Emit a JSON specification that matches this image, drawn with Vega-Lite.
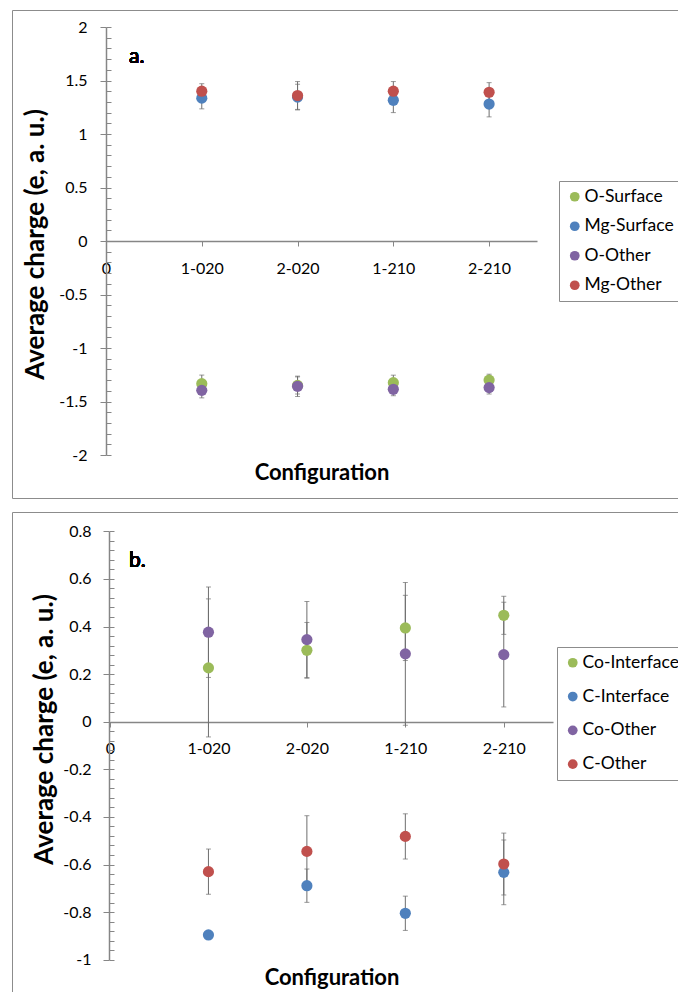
{
  "$schema": "https://vega.github.io/schema/vega-lite/v6.json",
  "padding": {"left": 11, "top": 9, "right": 0, "bottom": 0},
  "background": "white",
  "spacing": 12,
  "resolve": {"scale": {"color": "independent"}, "legend": {"color": "independent"}},
  "config": {
    "view": {"stroke": "#8c8c8c", "strokeWidth": 1},
    "font": "Lato",
    "axis": {"grid": false, "domainColor": "#868686", "tickColor": "#868686", "labelColor": "#000", "titleColor": "#000", "labelFont": "Lato", "titleFont": "Lato", "labelFlush": false},
    "legend": {"labelFont": "Lato"}
  },
  "datasets": {
    "a": [
      {"pos": 1, "config": "1-020", "series": "O-Surface", "v": -1.333, "err": 0.08},
      {"pos": 2, "config": "2-020", "series": "O-Surface", "v": -1.35, "err": 0.08},
      {"pos": 3, "config": "1-210", "series": "O-Surface", "v": -1.324, "err": 0.07},
      {"pos": 4, "config": "2-210", "series": "O-Surface", "v": -1.30, "err": 0.055},
      {"pos": 1, "config": "1-020", "series": "Mg-Surface", "v": 1.335, "err": 0.10},
      {"pos": 2, "config": "2-020", "series": "Mg-Surface", "v": 1.345, "err": 0.12},
      {"pos": 3, "config": "1-210", "series": "Mg-Surface", "v": 1.315, "err": 0.115},
      {"pos": 4, "config": "2-210", "series": "Mg-Surface", "v": 1.28, "err": 0.12},
      {"pos": 1, "config": "1-020", "series": "O-Other", "v": -1.396, "err": 0.07},
      {"pos": 2, "config": "2-020", "series": "O-Other", "v": -1.358, "err": 0.095},
      {"pos": 3, "config": "1-210", "series": "O-Other", "v": -1.386, "err": 0.06},
      {"pos": 4, "config": "2-210", "series": "O-Other", "v": -1.37, "err": 0.06},
      {"pos": 1, "config": "1-020", "series": "Mg-Other", "v": 1.40, "err": 0.07},
      {"pos": 2, "config": "2-020", "series": "Mg-Other", "v": 1.36, "err": 0.13},
      {"pos": 3, "config": "1-210", "series": "Mg-Other", "v": 1.40, "err": 0.09},
      {"pos": 4, "config": "2-210", "series": "Mg-Other", "v": 1.39, "err": 0.09}
    ],
    "b": [
      {"pos": 1, "config": "1-020", "series": "Co-Interface", "v": 0.226, "err": 0.29},
      {"pos": 2, "config": "2-020", "series": "Co-Interface", "v": 0.30, "err": 0.117},
      {"pos": 3, "config": "1-210", "series": "Co-Interface", "v": 0.394, "err": 0.137},
      {"pos": 4, "config": "2-210", "series": "Co-Interface", "v": 0.447, "err": 0.08},
      {"pos": 1, "config": "1-020", "series": "C-Interface", "v": -0.896, "err": 0.0},
      {"pos": 2, "config": "2-020", "series": "C-Interface", "v": -0.689, "err": 0.07},
      {"pos": 3, "config": "1-210", "series": "C-Interface", "v": -0.805, "err": 0.072},
      {"pos": 4, "config": "2-210", "series": "C-Interface", "v": -0.633, "err": 0.136},
      {"pos": 1, "config": "1-020", "series": "Co-Other", "v": 0.376, "err": 0.19},
      {"pos": 2, "config": "2-020", "series": "Co-Other", "v": 0.345, "err": 0.16},
      {"pos": 3, "config": "1-210", "series": "Co-Other", "v": 0.285, "err": 0.30},
      {"pos": 4, "config": "2-210", "series": "Co-Other", "v": 0.282, "err": 0.22},
      {"pos": 1, "config": "1-020", "series": "C-Other", "v": -0.63, "err": 0.095},
      {"pos": 2, "config": "2-020", "series": "C-Other", "v": -0.545, "err": 0.15},
      {"pos": 3, "config": "1-210", "series": "C-Other", "v": -0.482, "err": 0.095},
      {"pos": 4, "config": "2-210", "series": "C-Other", "v": -0.598, "err": 0.13}
    ]
  },
  "vconcat": [
    {
      "width": 672,
      "height": 488,
      "data": {"name": "a"},
      "resolve": {"axis": {"x": "independent", "y": "independent"}},
      "layer": [
        {
          "mark": {"type": "errorbar", "ticks": {"size": 5, "thickness": 1, "color": "#6e6e6e"}, "rule": {"strokeWidth": 1, "color": "#6e6e6e"}},
          "encoding": {
            "x": {"field": "pos", "type": "quantitative", "scale": {"domain": [0, 4.5], "range": [94, 525], "nice": false, "zero": false}, "axis": null},
            "y": {"field": "v", "type": "quantitative", "scale": {"domain": [-2, 2], "range": [445, 17], "nice": false, "zero": false}, "axis": null},
            "yError": {"field": "err"}
          }
        },
        {
          "mark": {"type": "point", "filled": true, "opacity": 1, "size": 125, "shape": "circle"},
          "encoding": {
            "x": {"field": "pos", "type": "quantitative", "scale": {"domain": [0, 4.5], "range": [94, 525], "nice": false, "zero": false},
              "axis": {"orient": "bottom", "offset": -257, "values": [0, 1, 2, 3, 4], "labelExpr": "datum.value == 0 ? '0' : datum.value == 1 ? '1-020' : datum.value == 2 ? '2-020' : datum.value == 3 ? '1-210' : '2-210'",
                "tickSize": 5, "domainWidth": 1.5, "labelFontSize": 16, "labelPadding": 14, "title": "Configuration", "titleFontSize": 22, "titleFontWeight": "bold", "titleBaseline": "alphabetic", "titleY": 238}},
            "y": {"field": "v", "type": "quantitative", "scale": {"domain": [-2, 2], "range": [445, 17], "nice": false, "zero": false},
              "axis": {"orient": "left", "offset": -94, "values": [-2, -1.5, -1, -0.5, 0, 0.5, 1, 1.5, 2], "labelExpr": "replace(format(datum.value, '~g'), '\u2212', '-')", "tickSize": 6, "domainWidth": 1.5, "labelFontSize": 16, "labelPadding": 13,
                "title": "Average charge (e, a. u.)", "titleFontSize": 26, "titleFontWeight": "bold", "titleBaseline": "alphabetic", "titleX": -63, "titleY": 234, "titleAngle": -90}},
            "color": {"field": "series", "type": "nominal", "scale": {"domain": ["O-Surface", "Mg-Surface", "O-Other", "Mg-Other"], "range": ["#9BBB59", "#4F81BD", "#8064A2", "#C0504D"]},
              "legend": {"title": null, "orient": "none", "legendX": 547, "legendY": 171, "strokeColor": "#8c8c8c", "padding": 7, "labelFontSize": 17.5, "labelColor": "#000", "symbolSize": 95, "symbolType": "circle", "rowPadding": 10.5, "labelOffset": 1, "symbolStrokeWidth": 0}}
          }
        },
        {
          "mark": {"type": "text", "text": "a.", "fontSize": 21, "fontWeight": "normal", "align": "left", "baseline": "alphabetic", "color": "#000"},
          "encoding": {
            "x": {"datum": 0.24, "type": "quantitative", "scale": {"domain": [0, 4.5], "range": [94, 525], "nice": false, "zero": false}, "axis": null},
            "y": {"datum": 1.664, "type": "quantitative", "scale": {"domain": [-2, 2], "range": [445, 17], "nice": false, "zero": false},
              "axis": {"orient": "left", "offset": -94, "values": [-2, -1.9, -1.8, -1.7, -1.6, -1.5, -1.4, -1.3, -1.2, -1.1, -1, -0.9, -0.8, -0.7, -0.6, -0.5, -0.4, -0.3, -0.2, -0.1, 0, 0.1, 0.2, 0.3, 0.4, 0.5, 0.6, 0.7, 0.8, 0.9, 1, 1.1, 1.2, 1.3, 1.4, 1.5, 1.6, 1.7, 1.8, 1.9, 2], "tickSize": -5, "domain": false, "labels": false, "title": null}}
          }
        }
      ]
    },
    {
      "width": 672,
      "height": 490,
      "data": {"name": "b"},
      "resolve": {"axis": {"x": "independent", "y": "independent"}},
      "layer": [
        {
          "mark": {"type": "errorbar", "ticks": {"size": 5, "thickness": 1, "color": "#6e6e6e"}, "rule": {"strokeWidth": 1, "color": "#6e6e6e"}},
          "encoding": {
            "x": {"field": "pos", "type": "quantitative", "scale": {"domain": [0, 4.5], "range": [98, 541], "nice": false, "zero": false}, "axis": null},
            "y": {"field": "v", "type": "quantitative", "scale": {"domain": [-1, 0.8], "range": [447.7, 19.3], "nice": false, "zero": false}, "axis": null},
            "yError": {"field": "err"}
          }
        },
        {
          "mark": {"type": "point", "filled": true, "opacity": 1, "size": 125, "shape": "circle"},
          "encoding": {
            "x": {"field": "pos", "type": "quantitative", "scale": {"domain": [0, 4.5], "range": [98, 541], "nice": false, "zero": false},
              "axis": {"orient": "bottom", "offset": -280, "values": [0, 1, 2, 3, 4], "labelExpr": "datum.value == 0 ? '0' : datum.value == 1 ? '1-020' : datum.value == 2 ? '2-020' : datum.value == 3 ? '1-210' : '2-210'",
                "tickSize": 5, "domainWidth": 1.5, "labelFontSize": 16, "labelPadding": 13, "title": "Configuration", "titleFontSize": 22, "titleFontWeight": "bold", "titleBaseline": "alphabetic", "titleY": 262}},
            "y": {"field": "v", "type": "quantitative", "scale": {"domain": [-1, 0.8], "range": [447.7, 19.3], "nice": false, "zero": false},
              "axis": {"orient": "left", "offset": -97, "values": [-1, -0.8, -0.6, -0.4, -0.2, 0, 0.2, 0.4, 0.6, 0.8], "labelExpr": "replace(format(datum.value, '~g'), '\u2212', '-')", "tickSize": 6, "domainWidth": 1.5, "labelFontSize": 16, "labelPadding": 12,
                "title": "Average charge (e, a. u.)", "titleFontSize": 26, "titleFontWeight": "bold", "titleBaseline": "alphabetic", "titleX": -57, "titleY": 217, "titleAngle": -90}},
            "color": {"field": "series", "type": "nominal", "scale": {"domain": ["Co-Interface", "C-Interface", "Co-Other", "C-Other"], "range": ["#9BBB59", "#4F81BD", "#8064A2", "#C0504D"]},
              "legend": {"title": null, "orient": "none", "legendX": 545, "legendY": 135, "strokeColor": "#8c8c8c", "padding": 7, "labelFontSize": 17.5, "labelColor": "#000", "symbolSize": 95, "symbolType": "circle", "rowPadding": 14.8, "labelOffset": 1, "symbolStrokeWidth": 0}}
          }
        },
        {
          "mark": {"type": "text", "text": "b.", "fontSize": 21, "fontWeight": "normal", "align": "left", "baseline": "alphabetic", "color": "#000"},
          "encoding": {
            "x": {"datum": 0.193, "type": "quantitative", "scale": {"domain": [0, 4.5], "range": [98, 541], "nice": false, "zero": false}, "axis": null},
            "y": {"datum": 0.65, "type": "quantitative", "scale": {"domain": [-1, 0.8], "range": [447.7, 19.3], "nice": false, "zero": false},
              "axis": {"orient": "left", "offset": -97, "values": [-1, -0.96, -0.92, -0.88, -0.84, -0.8, -0.76, -0.72, -0.68, -0.64, -0.6, -0.56, -0.52, -0.48, -0.44, -0.4, -0.36, -0.32, -0.28, -0.24, -0.2, -0.16, -0.12, -0.08, -0.04, 0, 0.04, 0.08, 0.12, 0.16, 0.2, 0.24, 0.28, 0.32, 0.36, 0.4, 0.44, 0.48, 0.52, 0.56, 0.6, 0.64, 0.68, 0.72, 0.76, 0.8], "tickSize": -5, "domain": false, "labels": false, "title": null}}
          }
        }
      ]
    }
  ]
}
